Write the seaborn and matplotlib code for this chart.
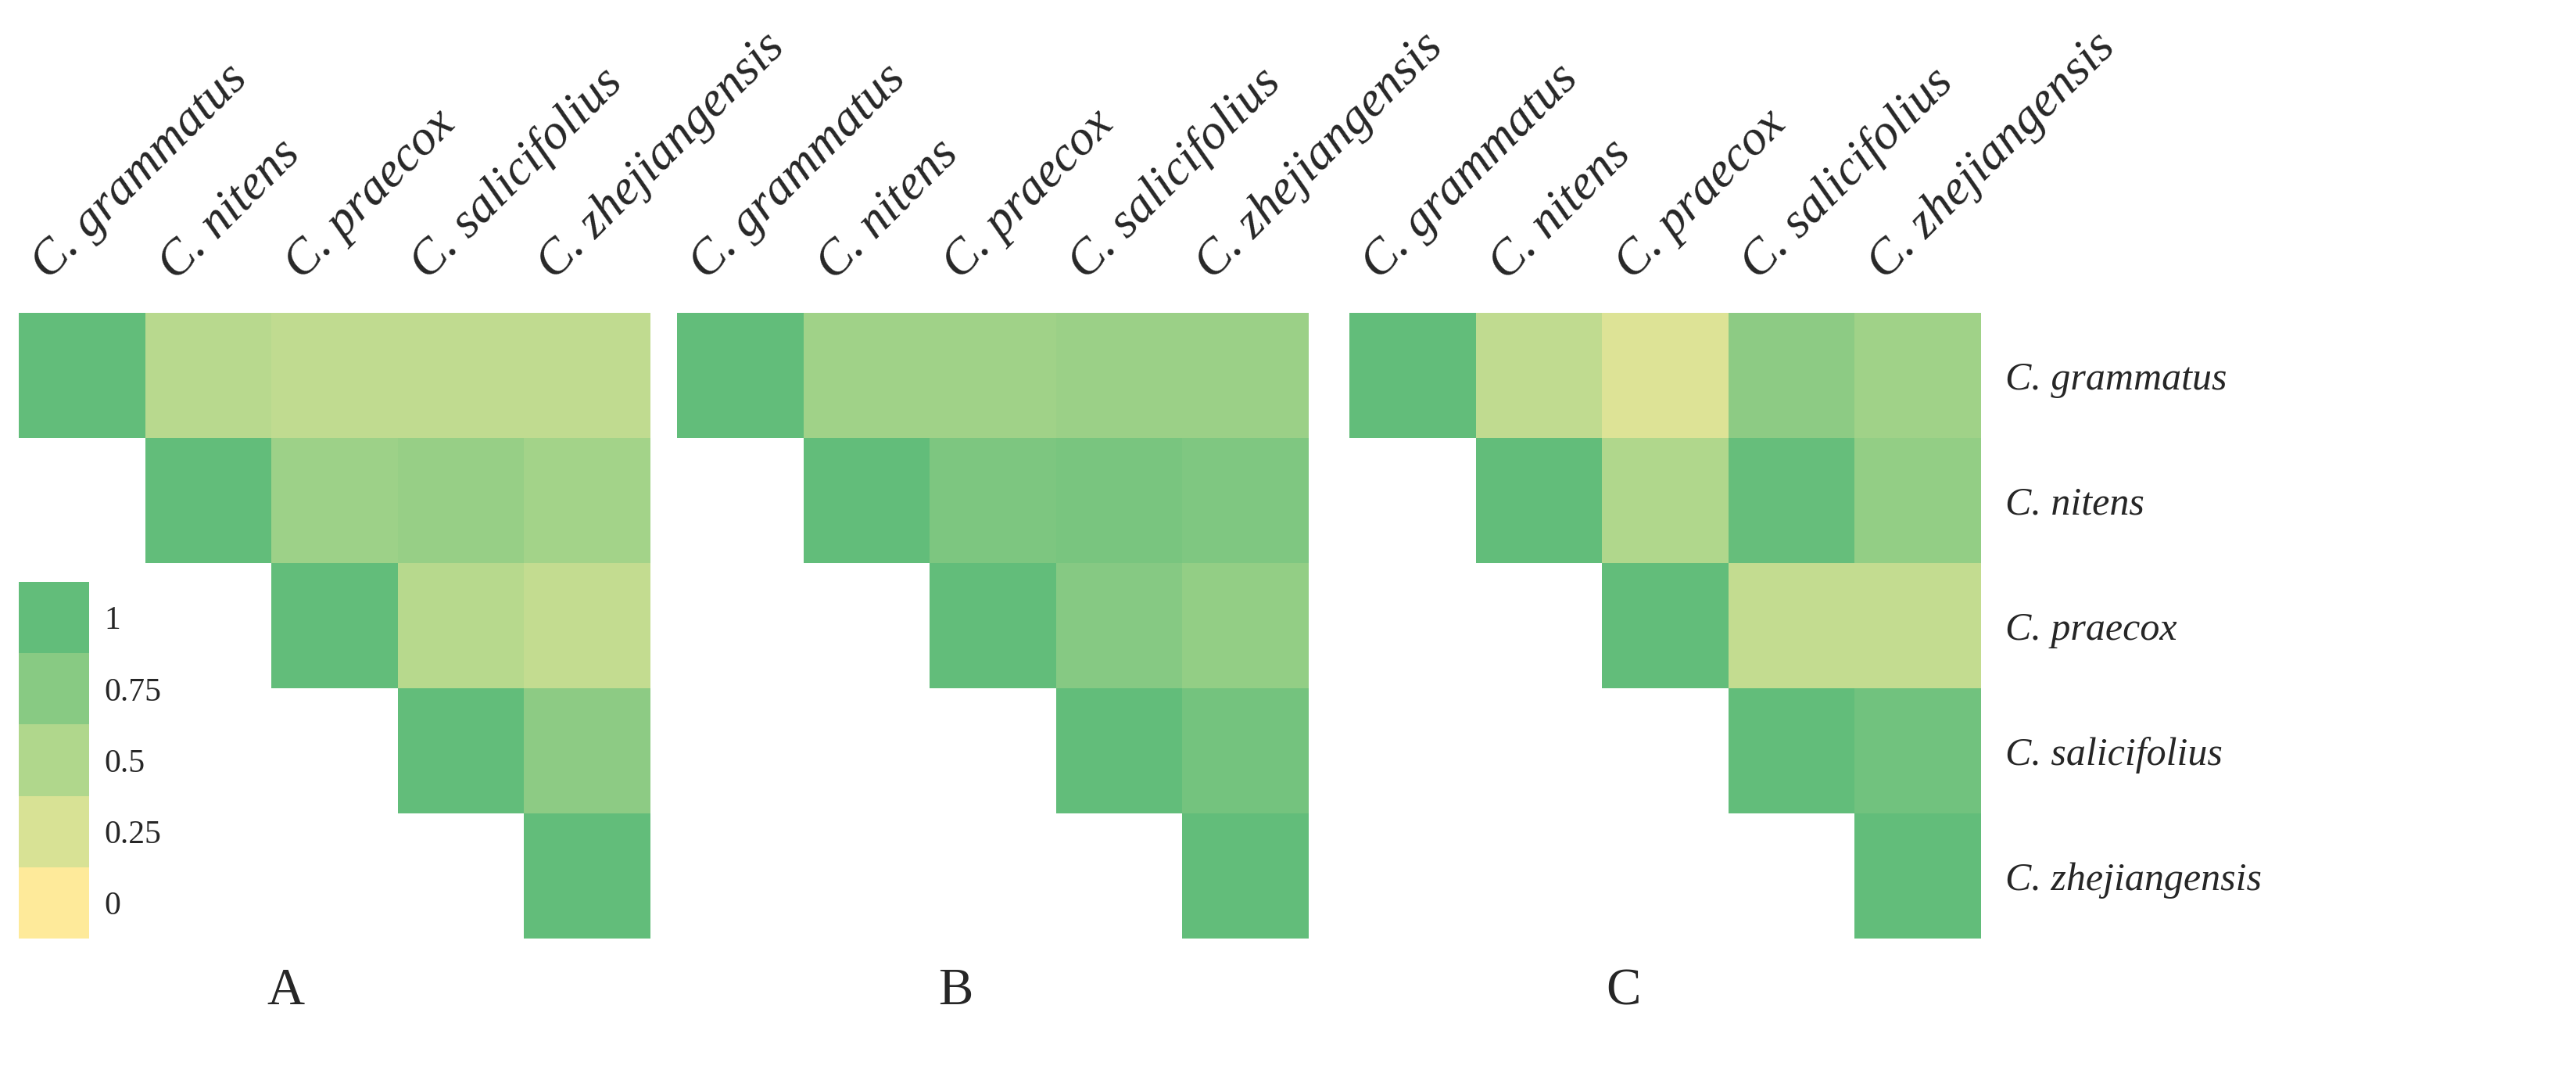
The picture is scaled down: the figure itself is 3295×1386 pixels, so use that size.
import numpy as np
import pandas as pd
import seaborn as sns
import matplotlib.pyplot as plt
from matplotlib.colors import LinearSegmentedColormap

species = ["C. grammatus", "C. nitens", "C. praecox", "C. salicifolius", "C. zhejiangensis"]
panel_labels = ["A", "B", "C"]
A_vals = [[1, 0.45, 0.40, 0.40, 0.40],
          [None, 1, 0.62, 0.66, 0.58],
          [None, None, 1, 0.46, 0.38],
          [None, None, None, 1, 0.72],
          [None, None, None, None, 1]]
B_vals = [[1, 0.60, 0.60, 0.63, 0.63],
          [None, 1, 0.82, 0.85, 0.81],
          [None, None, 1, 0.76, 0.68],
          [None, None, None, 1, 0.88],
          [None, None, None, None, 1]]
C_vals = [[1, 0.40, 0.22, 0.72, 0.60],
          [None, 1, 0.50, 0.97, 0.68],
          [None, None, 1, 0.38, 0.38],
          [None, None, None, 1, 0.90],
          [None, None, None, None, 1]]
legend_vals = [1, 0.75, 0.5, 0.25, 0]

cmap = LinearSegmentedColormap.from_list(
    "yg", ["#feea9a", "#d8e295", "#b0d78c", "#88ca83", "#62bd7a"])

sns.set_style("white")
plt.rcParams['font.family'] = ['Liberation Serif', 'DejaVu Serif']

W, H = 3295, 1386
fig = plt.figure(figsize=(W / 100, H / 100), dpi=100)

def px_axes(x0, y0, x1, y1):
    return fig.add_axes([x0 / W, 1 - y1 / H, (x1 - x0) / W, (y1 - y0) / H])

lefts = [24, 866, 1726]
letter_x = [365, 1222, 2076]
for k, (vals, lab) in enumerate(zip([A_vals, B_vals, C_vals], panel_labels)):
    df = pd.DataFrame(vals, index=species, columns=species, dtype=float)
    ax = px_axes(lefts[k], 400, lefts[k] + 808, 1200)
    sns.heatmap(df, ax=ax, cmap=cmap, vmin=0, vmax=1, cbar=False,
                square=False, linewidths=0)
    ax.xaxis.tick_top()
    ax.set_xticks(np.arange(5) + 0.3)
    ax.set_xticklabels(species, rotation=45, ha='left', rotation_mode='anchor',
                       fontsize=46, style='italic')
    ax.tick_params(length=0, pad=22)
    if k == 2:
        ax.yaxis.tick_right()
        ax.set_yticks(np.arange(5) + 0.5)
        ax.set_yticklabels(species, rotation=0, fontsize=36, style='italic')
        ax.tick_params(axis='y', pad=22)
    else:
        ax.set_yticks([])
    ax.set_xlabel("")
    ax.set_ylabel("")
    fig.text(letter_x[k] / W, 1 - 1268 / H, lab, fontsize=48, ha='center', va='center')

# legend
lax = px_axes(24, 744, 114, 1200)
ldf = pd.DataFrame({"v": legend_vals}, index=[str(v) for v in legend_vals])
sns.heatmap(ldf, ax=lax, cmap=cmap, vmin=0, vmax=1, cbar=False, linewidths=0)
lax.yaxis.tick_right()
lax.set_yticks(np.arange(5) + 0.5)
lax.set_yticklabels([str(v) for v in legend_vals], rotation=0, fontsize=30)
lax.set_xticks([])
lax.tick_params(length=0, pad=14)
lax.set_xlabel("")
lax.set_ylabel("")

fig.savefig("out.png", dpi=100, facecolor="white")
